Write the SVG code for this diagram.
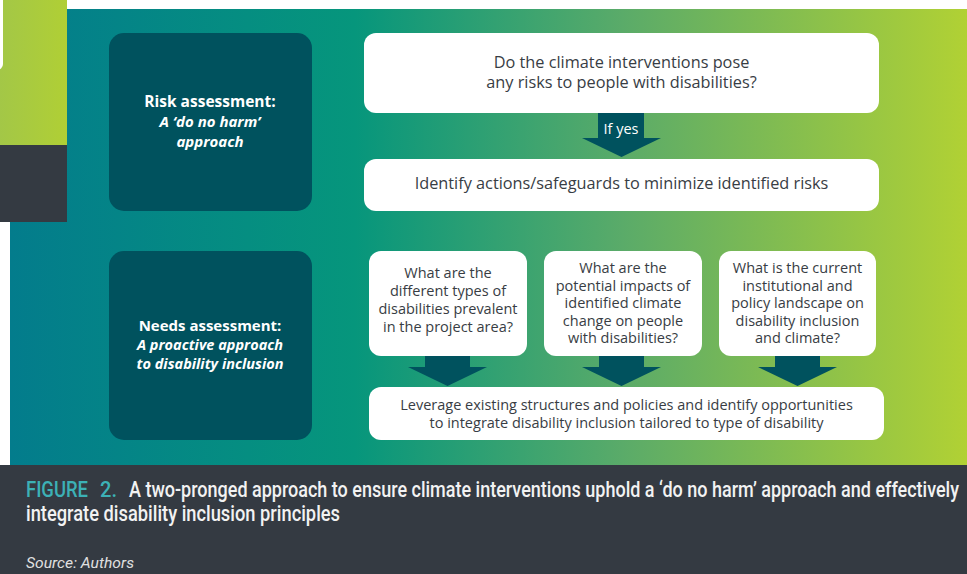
<svg xmlns="http://www.w3.org/2000/svg" width="967" height="574" viewBox="0 0 967 574">
<style>
.wbox{fill:#ffffff}
.dbox{fill:#00525e}
.arrow{fill:#00525e}
.q{font-family:"Open Sans","Noto Sans",sans-serif;fill:#383d44;text-anchor:middle}
.h{font-family:"Open Sans","Noto Sans",sans-serif;fill:#ffffff;text-anchor:middle;font-weight:700}
.hi{font-style:italic}
.cap{font-family:Roboto,"Liberation Sans",sans-serif;font-weight:500}
</style>
<defs>
<linearGradient id="bg" gradientUnits="userSpaceOnUse" x1="10" y1="0" x2="967" y2="0">
<stop offset="0" stop-color="#037c8c"/>
<stop offset="0.36" stop-color="#06967c"/>
<stop offset="0.64" stop-color="#5aab69"/>
<stop offset="1" stop-color="#b1d134"/>
</linearGradient>
<linearGradient id="lime" x1="0" y1="0" x2="1" y2="0">
<stop offset="0" stop-color="#a3c747"/>
<stop offset="1" stop-color="#b0cf35"/>
</linearGradient>
</defs>
<rect x="0" y="0" width="967" height="574" fill="#ffffff"/>
<rect x="10" y="9" width="957" height="456" fill="url(#bg)"/>
<rect x="0" y="0" width="67" height="145" fill="url(#lime)"/>
<rect x="0" y="145" width="67" height="77" fill="#343a42"/>
<rect x="-20" y="-10" width="23" height="80" rx="6" fill="#ffffff"/>
<rect x="0" y="465" width="967" height="109" fill="#343a42"/>

<g id="connectors">
<polygon class="arrow" points="598,113 644,113 644,138 661,138 621.5,157 582,138 598,138"/>
<polygon class="arrow" points="425,356 470,356 470,367 487,367 447.5,386 408,367 425,367"/>
<polygon class="arrow" points="599,356 644,356 644,367 661,367 621.5,386 582,367 599,367"/>
<polygon class="arrow" points="775,356 820,356 820,367 837,367 797.5,386 758,367 775,367"/>
<text x="621" y="134" class="q" style="fill:#ffffff" font-size="14.5">If yes</text>
</g>

<g id="risk">
<rect class="dbox" x="109" y="33" width="203" height="178" rx="15"/>
<text class="h" x="210" y="107" font-size="15.5">Risk assessment:</text>
<text class="h hi" x="210" y="127" font-size="15">A ‘do no harm’</text>
<text class="h hi" x="210" y="147" font-size="15">approach</text>
</g>

<g id="needs">
<rect class="dbox" x="109" y="251" width="203" height="189" rx="15"/>
<text class="h" x="210" y="331" font-size="15">Needs assessment:</text>
<text class="h hi" x="210" y="350" font-size="14.5">A proactive approach</text>
<text class="h hi" x="210" y="369" font-size="14.5">to disability inclusion</text>
</g>

<g id="q-risks">
<rect class="wbox" x="364" y="33" width="515" height="80" rx="12"/>
<text class="q" x="621.5" y="68" font-size="16.3">Do the climate interventions pose</text>
<text class="q" x="621.5" y="88" font-size="16.3">any risks to people with disabilities?</text>
</g>

<g id="safeguards">
<rect class="wbox" x="364" y="159" width="515" height="52" rx="12"/>
<text class="q" x="621.5" y="189" font-size="16.3">Identify actions/safeguards to minimize identified risks</text>
</g>

<g id="q-types">
<rect class="wbox" x="369" y="251" width="158" height="105" rx="12"/>
<text class="q" x="448" y="278" font-size="14.5">What are the</text>
<text class="q" x="448" y="296" font-size="14.5">different types of</text>
<text class="q" x="448" y="314" font-size="14.5">disabilities prevalent</text>
<text class="q" x="448" y="332" font-size="14.5">in the project area?</text>
</g>

<g id="q-impacts">
<rect class="wbox" x="544" y="251" width="158" height="105" rx="12"/>
<text class="q" x="623" y="273" font-size="14.5">What are the</text>
<text class="q" x="623" y="290.5" font-size="14.5">potential impacts of</text>
<text class="q" x="623" y="308" font-size="14.5">identified climate</text>
<text class="q" x="623" y="325.5" font-size="14.5">change on people</text>
<text class="q" x="623" y="343" font-size="14.5">with disabilities?</text>
</g>

<g id="q-policy">
<rect class="wbox" x="719" y="251" width="157" height="105" rx="12"/>
<text class="q" x="797.5" y="273" font-size="14.5">What is the current</text>
<text class="q" x="797.5" y="290.5" font-size="14.5">institutional and</text>
<text class="q" x="797.5" y="308" font-size="14.5">policy landscape on</text>
<text class="q" x="797.5" y="325.5" font-size="14.5">disability inclusion</text>
<text class="q" x="797.5" y="343" font-size="14.5">and climate?</text>
</g>

<g id="leverage">
<rect class="wbox" x="369" y="387" width="515" height="53" rx="12"/>
<text class="q" x="626.5" y="409.5" font-size="14.5">Leverage existing structures and policies and identify opportunities</text>
<text class="q" x="626.5" y="427.5" font-size="14.5">to integrate disability inclusion tailored to type of disability</text>
</g>

<g id="caption">
<text class="cap" x="26" y="497" font-size="22" fill="#3cb1b6" textLength="62" lengthAdjust="spacingAndGlyphs">FIGURE</text>
<text class="cap" x="100" y="497" font-size="22" fill="#3cb1b6" textLength="17" lengthAdjust="spacingAndGlyphs">2.</text>
<text class="cap" x="129" y="497" font-size="22" fill="#f2f2f2" textLength="830" lengthAdjust="spacingAndGlyphs">A two-pronged approach to ensure climate interventions uphold a ‘do no harm’ approach and effectively</text>
<text class="cap" x="26" y="521" font-size="22" fill="#f2f2f2" textLength="314" lengthAdjust="spacingAndGlyphs">integrate disability inclusion principles</text>
<text x="26" y="568" font-family="Roboto,'Liberation Sans',sans-serif" font-style="italic" font-size="15" fill="#e0e0e0" textLength="108" lengthAdjust="spacingAndGlyphs">Source: Authors</text>
</g>
</svg>
